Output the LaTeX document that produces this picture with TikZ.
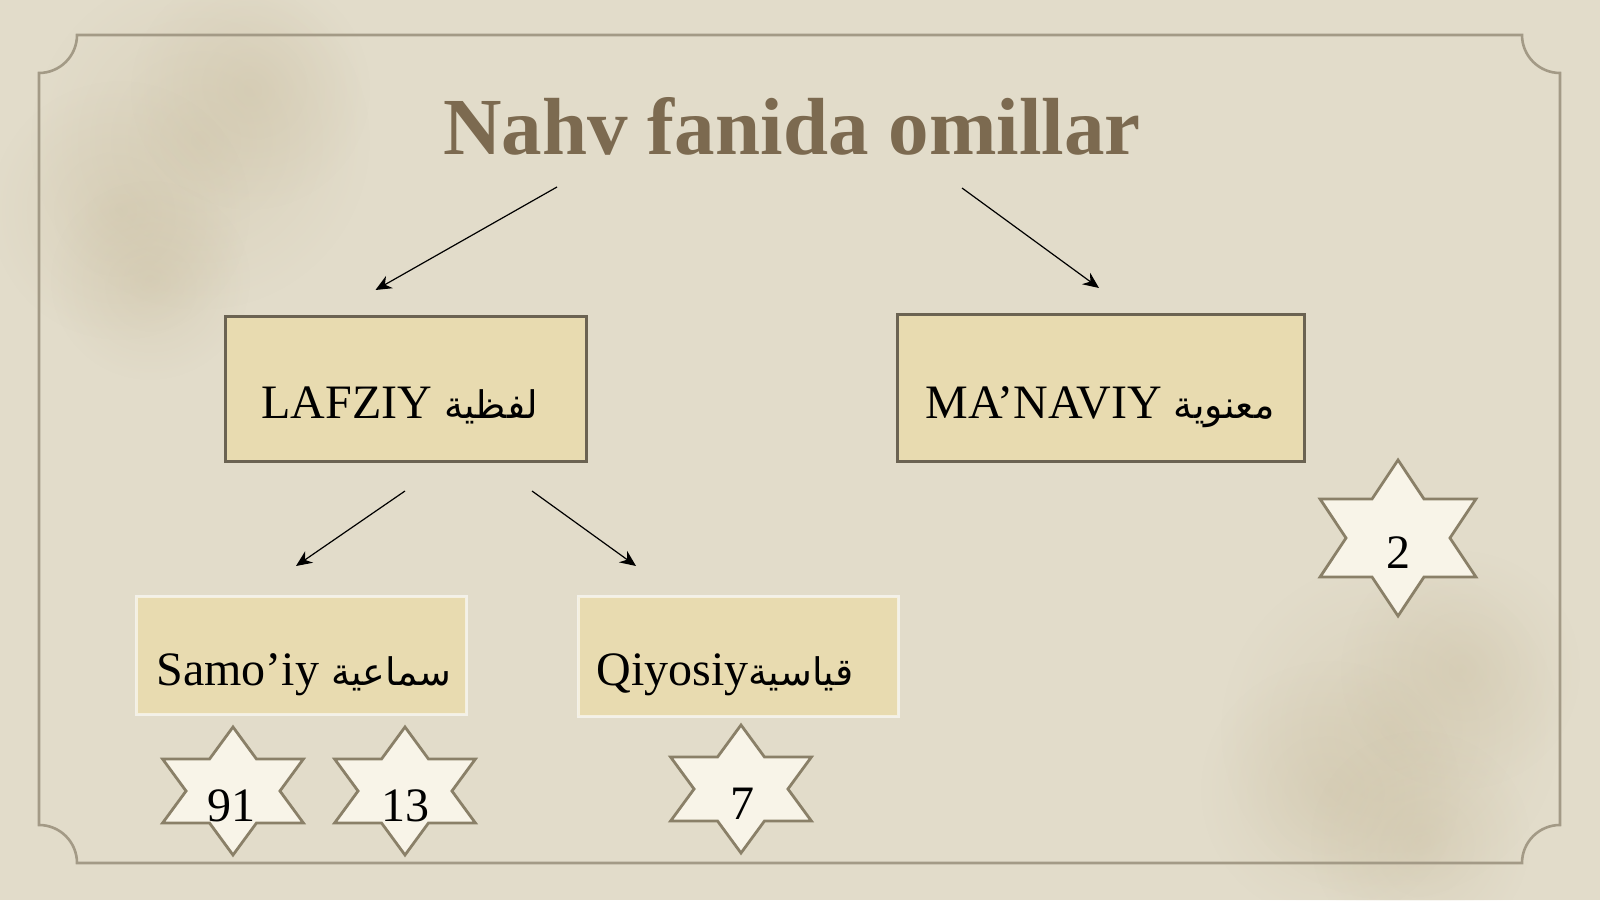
\documentclass[tikz,border=0pt]{standalone}
\usepackage{fontspec}
\setmainfont{Liberation Serif}
\newfontfamily\arabicfont[Script=Arabic]{DejaVu Sans}
\TeXXeTstate=1
\usetikzlibrary{arrows.meta,fadings}
\definecolor{bg}{HTML}{E2DCCA}
\definecolor{blobcol}{HTML}{C4B797}
\definecolor{framecol}{HTML}{A39A86}
\definecolor{titlecol}{HTML}{7C6A50}
\definecolor{boxfill}{HTML}{E8DBB0}
\definecolor{boxline}{HTML}{6B6352}
\definecolor{starfill}{HTML}{F8F4E8}
\definecolor{starline}{HTML}{8A8068}
\tikzfading[name=softblob, inner color=transparent!25, outer color=transparent!100]
\newcommand{\artxt}[1]{{\arabicfont\fontsize{19}{22}\selectfont\beginR #1\endR}}
\tikzset{
  pics/hexa/.style={code={
    \draw[starstyle] (90:1) -- (120:0.57735) -- (150:1) -- (180:0.57735) -- (210:1) -- (240:0.57735)
      -- (270:1) -- (300:0.57735) -- (330:1) -- (0:0.57735) -- (30:1) -- (60:0.57735) -- cycle;}},
  starstyle/.style={draw=starline, fill=starfill, line width=1.4pt, line join=miter},
  bigbox/.style={draw=boxline, line width=1.5pt, fill=boxfill, inner sep=0pt},
  smallbox/.style={draw=white, draw opacity=0.6, line width=1.5pt, fill=boxfill, inner sep=0pt},
  lbl/.style={inner sep=0pt, anchor=base west, font=\fontsize{24}{28}\selectfont},
  num/.style={inner sep=0pt, font=\fontsize{24}{28}\selectfont},
  arr/.style={line width=0.6pt, -{Stealth[length=8pt, width=7pt]}},
  blob/.style={fill=blobcol, fill opacity=0.38, path fading=softblob}
}
\begin{document}
\begin{tikzpicture}[x=0.5pt,y=0.5pt]
\useasboundingbox (0,0) rectangle (1600,900);
\fill[bg] (0,0) rectangle (1600,900);
% watercolour blobs
\fill[blob] (200,760) circle (170);
\fill[blob] (250,810) circle (120);
\fill[blob] (120,690) circle (130);
\fill[blob] (150,620) circle (100);
\fill[blob] (1390,170) circle (170);
\fill[blob] (1330,110) circle (130);
\fill[blob] (1460,230) circle (120);
\fill[blob] (1420,60) circle (110);
% frame
\draw[framecol, line width=1.3pt]
  (77,865) -- (1522,865) arc[start angle=180, end angle=270, radius=38]
  -- (1560,75) arc[start angle=90, end angle=180, radius=38]
  -- (77,37) arc[start angle=0, end angle=90, radius=38]
  -- (39,827) arc[start angle=-90, end angle=0, radius=38] -- cycle;
% title
\node[inner sep=0pt, anchor=base, text=titlecol, font=\fontsize{40.5}{48}\selectfont\bfseries]
  (title) at (792,745) {Nahv fanida omillar};
% boxes
\node[bigbox, minimum width=180.5pt, minimum height=72.5pt] (lafz) at (405.5,510.5) {};
\node[bigbox, minimum width=203.5pt, minimum height=73.5pt] (mana) at (1100.5,511.5) {};
\node[smallbox, minimum width=165pt, minimum height=58.5pt] (samo) at (301,244.5) {};
\node[smallbox, minimum width=160pt, minimum height=59.5pt] (qiyo) at (738,243.5) {};
\node[lbl] (lafzt) at (261,481) {LAFZIY \artxt{لفظية}};
\node[lbl] (manat) at (925,481) {MA’NAVIY \artxt{معنوية}};
\node[lbl] (samot) at (156,214) {Samo’iy \artxt{سماعية}};
\node[lbl] (qiyot) at (596,214) {Qiyosiy\artxt{قياسية}};
% arrows
\coordinate (a1s) at (557,713); \coordinate (a1e) at (375.5,610);
\coordinate (a2s) at (962,712); \coordinate (a2e) at (1099,612);
\coordinate (a3s) at (405,409); \coordinate (a3e) at (296,334);
\coordinate (a4s) at (532,409); \coordinate (a4e) at (636,334);
\draw[arr] (a1s) -- (a1e);
\draw[arr] (a2s) -- (a2e);
\draw[arr] (a3s) -- (a3e);
\draw[arr] (a4s) -- (a4e);
% stars
\pic[xscale=81.3, yscale=64] at (233,109) {hexa};
\pic[xscale=81.3, yscale=64] at (405,109) {hexa};
\pic[xscale=81.3, yscale=64] at (741,111) {hexa};
\pic[xscale=90, yscale=78] at (1398,362) {hexa};
\node[num] (n91) at (231,94) {91};
\node[num] (n13) at (405,94) {13};
\node[num] (n7) at (742,96) {7};
\node[num] (n2) at (1398,347) {2};
\end{tikzpicture}
\end{document}
